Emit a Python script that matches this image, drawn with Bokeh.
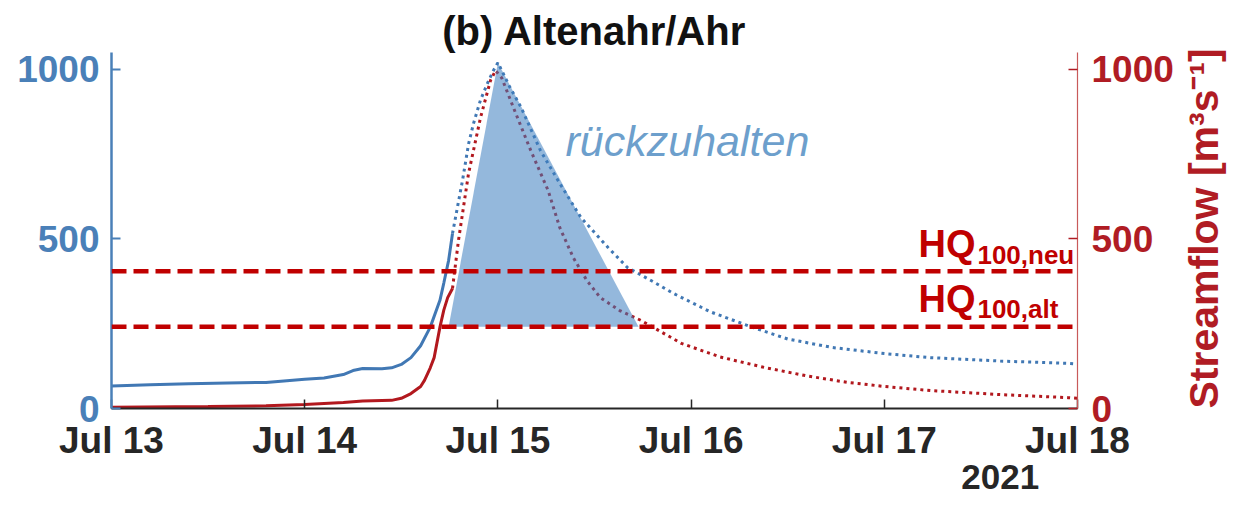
import math
from bokeh.plotting import figure
from bokeh.models import Range1d, LinearAxis, Label, Span, FixedTicker
from bokeh.embed import file_html
from bokeh.resources import INLINE

# ---- data (days of July 2021, streamflow m3/s) ----
blue_obs_day = [13.0, 13.2, 13.4, 13.6, 13.8, 14.0, 14.1, 14.2, 14.25, 14.3, 14.4, 14.45,
                14.5, 14.55, 14.6, 14.65, 14.7, 14.72, 14.745, 14.765]
blue_obs_q = [66, 70, 73, 75, 77, 86, 90, 100, 112, 118, 117, 120,
              130, 150, 185, 240, 319, 370, 437, 516]

blue_sim_day = [14.765, 14.796, 14.817, 14.848, 14.874, 14.91, 14.946, 14.975, 15.0, 15.06,
                15.12, 15.22, 15.32, 15.43, 15.57, 15.67, 15.81, 15.91, 16.1, 16.32, 16.5,
                16.73, 17.0, 17.24, 17.6, 17.95, 18.0]
blue_sim_q = [516, 610, 673, 780, 841, 910, 959, 995, 1020, 950,
              888, 761, 664, 563, 475, 416, 372, 339, 285, 239, 205,
              180, 162, 150, 140, 133, 131]

red_obs_day = [13.0, 13.5, 13.8, 14.0, 14.2, 14.3, 14.45, 14.5, 14.55, 14.6, 14.62, 14.65,
               14.67, 14.7, 14.72, 14.74, 14.765]
red_obs_q = [4, 6, 8, 12, 18, 22, 24, 30, 44, 65, 83, 120,
             150, 240, 290, 327, 354]

red_sim_day = [14.765, 14.796, 14.848, 14.91, 14.962, 14.988, 15.02, 15.08, 15.17, 15.26,
               15.32, 15.39, 15.46, 15.53, 15.63, 15.74, 15.95, 16.15, 16.38, 16.6, 16.81,
               17.0, 17.24, 17.6, 17.95, 18.0]
red_sim_q = [354, 496, 693, 858, 968, 997, 975, 888, 761, 643,
             534, 445, 378, 327, 289, 260, 192, 152, 121, 96, 77,
             65, 53, 41, 32, 30]

fill_day = [14.745, 15.0, 15.728]
fill_q = [241, 1020, 241]

hq_alt = 241
hq_neu = 405

x_ticks = [13, 14, 15, 16, 17, 18]
x_tick_labels = ["Jul 13", "Jul 14", "Jul 15", "Jul 16", "Jul 17", "Jul 18"]
y_ticks = [0, 500, 1000]
year_pos = 17.6
year_label = "2021"
y_label = "Streamflow [m³s⁻¹]"

# ---- styling ----
BLUE = "#4178b4"
BLUE_AX = "#4a80b8"
RED = "#b2181e"
RED_AX = "#b01c24"
DASH_RED = "#c00000"
FONT = "Liberation Sans"

p = figure(frame_width=966, frame_height=356,
           x_range=Range1d(13, 18), y_range=Range1d(0, 1050),
           output_backend="svg", toolbar_location=None,
           min_border_left=111, min_border_right=10,
           min_border_top=52, min_border_bottom=5,
           background_fill_color="white", border_fill_color="white")
p.extra_y_ranges = {"r": Range1d(0, 1050)}
p.xgrid.visible = False
p.ygrid.visible = False
p.outline_line_color = None

# title
p.title.text = "(b) Altenahr/Ahr"
p.title.align = "center"
p.title.text_font = FONT
p.title.text_font_size = "40px"
p.title.text_font_style = "bold"
p.title.text_color = "#111111"
p.title.standoff = 0

# left axis
ya = p.yaxis[0]
ya.ticker = FixedTicker(ticks=y_ticks)
ya.axis_line_color = BLUE_AX
ya.axis_line_width = 2.5
ya.major_tick_line_color = BLUE_AX
ya.major_tick_line_width = 2
ya.major_tick_in = 9
ya.major_tick_out = 0
ya.minor_tick_line_color = None
ya.major_label_text_color = BLUE_AX
ya.major_label_text_font = FONT
ya.major_label_text_font_style = "bold"
ya.major_label_text_font_size = "37px"
ya.major_label_standoff = 12

# right axis (ticks)
ra = LinearAxis(y_range_name="r", ticker=FixedTicker(ticks=y_ticks))
ra.axis_line_color = "#c85a5a"
ra.axis_line_width = 1.2
ra.major_tick_line_color = RED_AX
ra.major_tick_line_width = 1.5
ra.major_tick_in = 9
ra.major_tick_out = 0
ra.minor_tick_line_color = None
ra.major_label_text_color = RED_AX
ra.major_label_text_font = FONT
ra.major_label_text_font_style = "bold"
ra.major_label_text_font_size = "37px"
ra.major_label_standoff = 14
p.add_layout(ra, "right")

# right axis title, drawn as a rotated label reading bottom-to-top
rl = LinearAxis(y_range_name="r", ticker=FixedTicker(ticks=[0]),
                major_label_overrides={0: y_label})
rl.axis_line_color = None
rl.major_tick_line_color = None
rl.minor_tick_line_color = None
rl.major_tick_in = 0
rl.major_tick_out = 0
rl.major_label_orientation = math.pi / 2
rl.major_label_text_color = RED_AX
rl.major_label_text_font = FONT
rl.major_label_text_font_style = "bold"
rl.major_label_text_font_size = "41px"
rl.major_label_standoff = 27
p.add_layout(rl, "right")

# bottom axis
xa = p.xaxis[0]
xa.ticker = FixedTicker(ticks=x_ticks)
xa.major_label_overrides = {t: l for t, l in zip(x_ticks, x_tick_labels)}
xa.axis_line_color = "#262626"
xa.axis_line_width = 2
xa.major_tick_line_color = "#262626"
xa.major_tick_line_width = 1.5
xa.major_tick_in = 9
xa.major_tick_out = 0
xa.minor_tick_line_color = None
xa.major_label_text_color = "#262626"
xa.major_label_text_font = FONT
xa.major_label_text_font_style = "bold"
xa.major_label_text_font_size = "37px"
xa.major_label_standoff = 11

# year below the date labels
xb = LinearAxis(ticker=FixedTicker(ticks=[year_pos]), major_label_overrides={year_pos: year_label})
xb.axis_line_color = None
xb.major_tick_line_color = None
xb.minor_tick_line_color = None
xb.major_tick_in = 0
xb.major_tick_out = 0
xb.major_label_text_color = "#262626"
xb.major_label_text_font = FONT
xb.major_label_text_font_style = "bold"
xb.major_label_text_font_size = "35px"
xb.major_label_standoff = 1
xb.axis_label = " "
xb.axis_label_text_font_size = "3px"
xb.axis_label_standoff = 1
p.add_layout(xb, "below")

# lines
p.line(blue_obs_day, blue_obs_q, line_color=BLUE, line_width=3)
p.line(red_obs_day, red_obs_q, line_color=RED, line_width=3, y_range_name="r")
p.line(blue_sim_day, blue_sim_q, line_color=BLUE, line_width=3, line_dash="3 4")
p.line(red_sim_day, red_sim_q, line_color=RED, line_width=3, line_dash="3 4", y_range_name="r")

# retention area
p.patch(fill_day, fill_q, fill_color="#3d7ebf", fill_alpha=0.55, line_color=None)

# HQ100 lines
for lvl in (hq_neu, hq_alt):
    p.add_layout(Span(location=lvl, dimension="width", line_color=DASH_RED,
                      line_width=4.5, line_dash="15 7"))

# labels
def lab(x, y, text, size, color, style="bold", align="left", baseline="alphabetic"):
    p.add_layout(Label(x=x, y=y, text=text, text_font=FONT, text_font_size=size,
                       text_font_style=style, text_color=color, text_align=align,
                       text_baseline=baseline))

lab(17.177, 484, "HQ", "38px", DASH_RED)
lab(17.482, 452, "100,neu", "26px", DASH_RED)
lab(17.177, 324, "HQ", "38px", DASH_RED)
lab(17.482, 292, "100,alt", "26px", DASH_RED)

lab(15.35, 790, "rückzuhalten", "43px", "#6d9fcc", style="italic")

open("out.html", "w").write(file_html(p, INLINE))
